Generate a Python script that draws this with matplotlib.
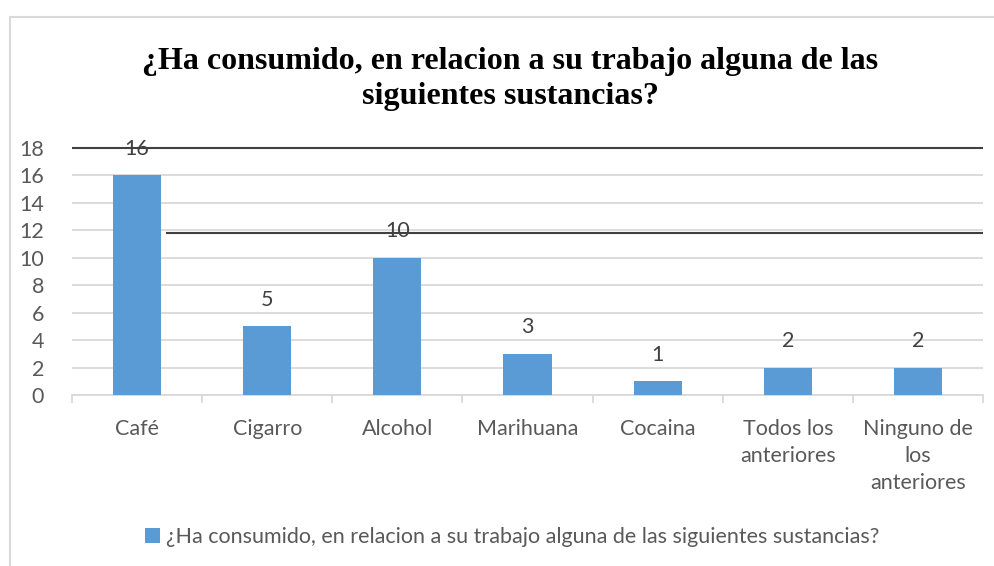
import matplotlib
matplotlib.use("Agg")
import matplotlib.pyplot as plt
from matplotlib.patches import Rectangle
import numpy as np

categories = ["Café", "Cigarro", "Alcohol", "Marihuana", "Cocaina",
              "Todos los\nanteriores", "Ninguno de\nlos\nanteriores"]
values = [16, 5, 10, 3, 1, 2, 2]
series_name = "¿Ha consumido, en relacion a su trabajo alguna de las siguientes sustancias?"
title = "¿Ha consumido, en relacion a su trabajo alguna de las\nsiguientes sustancias?"
yticks = [0, 2, 4, 6, 8, 10, 12, 14, 16, 18]

W, H = 995, 566
fig = plt.figure(figsize=(W/100, H/100), dpi=100)
fig.patch.set_facecolor("white")

# chart frame
fig.patches.append(Rectangle((10/W, -0.1), 1.2, (H-17)/H + 0.1, transform=fig.transFigure,
                             fill=False, edgecolor="#d9d9d9", linewidth=1.5))

ax = fig.add_axes([72/W, 1-395/H, (983-72)/W, (395-148)/H])
x = np.arange(len(categories))
bars = ax.bar(x, values, width=0.37, color="#5b9bd5", zorder=3, label=series_name)
ax.set_xlim(-0.5, len(categories)-0.5)
ax.set_ylim(0, 18)
ax.set_yticks(yticks)
ax.set_yticklabels([str(t) for t in yticks])
ax.yaxis.grid(True, color="#d9d9d9", linewidth=1.3, zorder=0)
ax.set_axisbelow(True)
for s in ["top", "right", "left"]:
    ax.spines[s].set_visible(False)
ax.spines["bottom"].set_color("#d9d9d9")
ax.spines["bottom"].set_linewidth(1.3)

font = "Lato"
fs = 15.5
ax.tick_params(axis="y", length=0, pad=20, labelsize=fs, labelcolor="#595959")
ax.set_xticks(x)
ax.set_xticklabels(categories, fontsize=fs, color="#595959", family=font, linespacing=1.45, va="top")
ax.tick_params(axis="x", length=0, pad=17)
for lab in ax.get_yticklabels():
    lab.set_family(font)
# boundary tick marks
ax.set_xticks(np.arange(len(categories)+1) - 0.5, minor=True)
ax.tick_params(axis="x", which="minor", length=6, color="#d9d9d9", width=1.3)

for xi, v in zip(x, values):
    ax.text(xi, v + 1.2, str(v), ha="center", va="bottom", fontsize=fs,
            color="#404040", family=font, zorder=5)

# stray black lines present in the reference image
ax.hlines(18, -0.5, len(categories)-0.5, colors="#404040", linewidth=1.5, zorder=6, clip_on=False)
ax.hlines(11.8, 0.22, len(categories)-0.5, colors="#404040", linewidth=1.5, zorder=6, clip_on=False)

fig.text(510/W, 1-79/H, title, ha="center", va="center", fontsize=23,
         fontweight="bold", family="Liberation Serif", linespacing=1.3)

leg = fig.legend(handles=[bars], labels=[series_name], loc="center",
                 bbox_to_anchor=(512/W, 1-537/H), frameon=False,
                 prop={"family": font, "size": fs}, handlelength=0.7, handleheight=0.7,
                 handletextpad=0.3)
for t in leg.get_texts():
    t.set_color("#595959")

fig.savefig("out.png", dpi=100)
